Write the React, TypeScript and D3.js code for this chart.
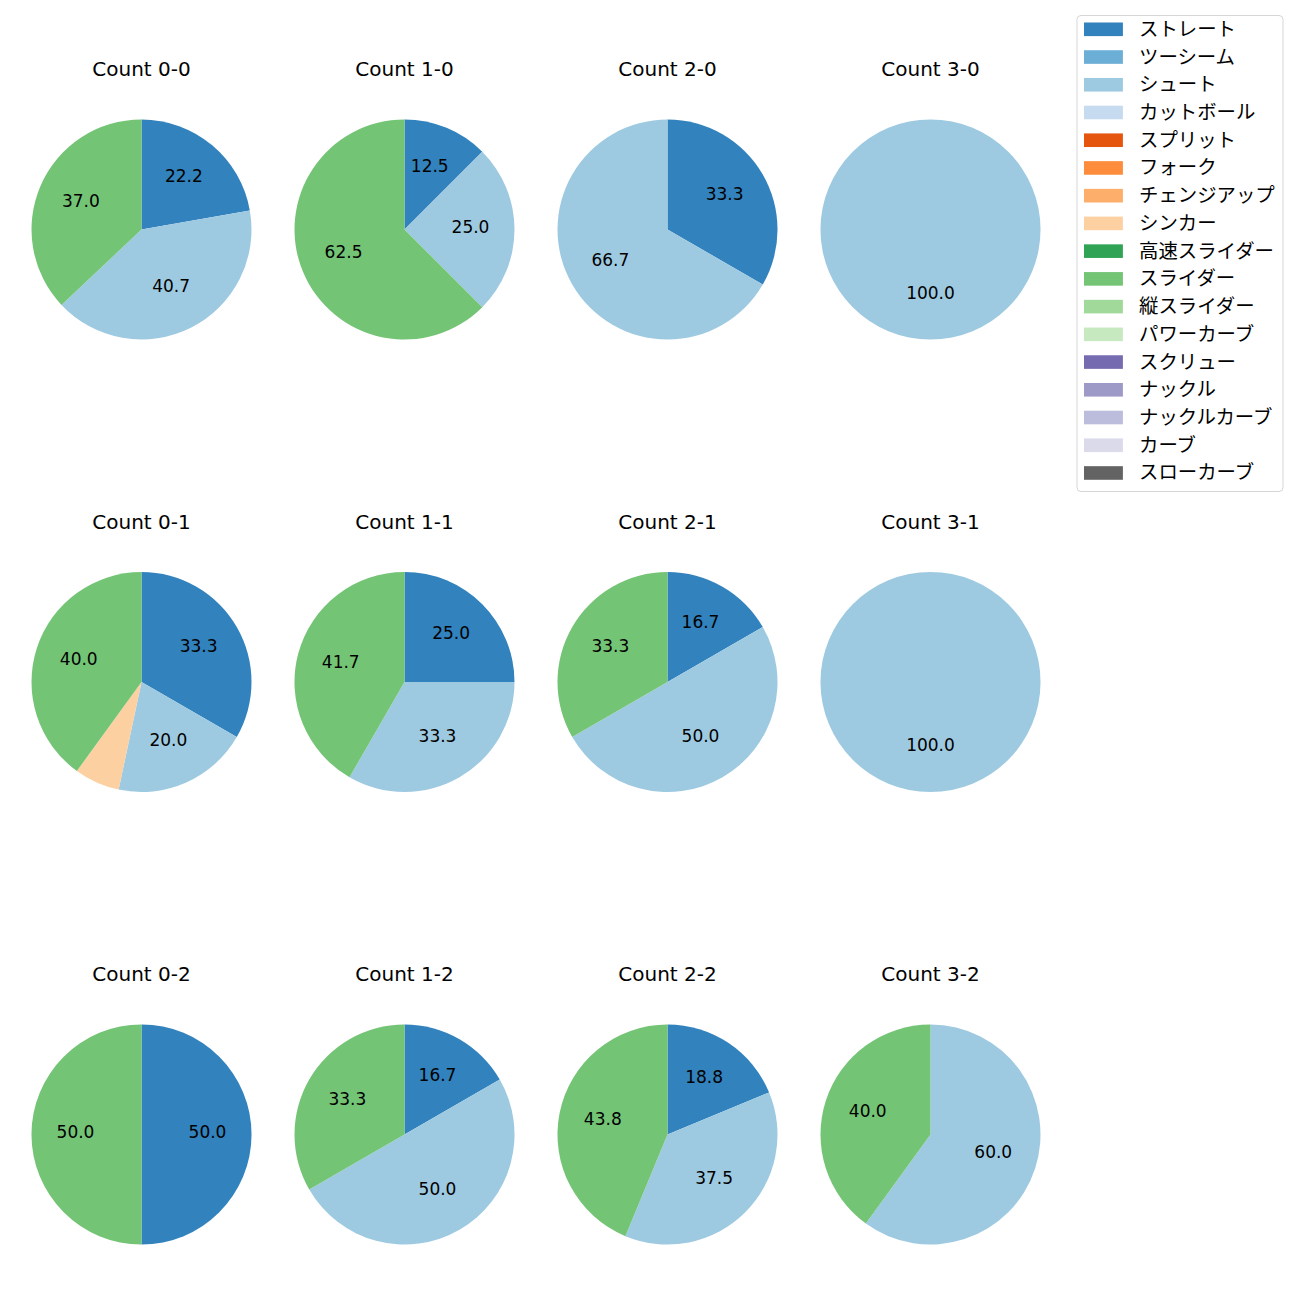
import React, { useEffect } from 'react';
import * as d3 from 'd3';

// ---- data ----
const pitchTypes = [
  'ストレート', 'ツーシーム', 'シュート', 'カットボール', 'スプリット', 'フォーク',
  'チェンジアップ', 'シンカー', '高速スライダー', 'スライダー', '縦スライダー',
  'パワーカーブ', 'スクリュー', 'ナックル', 'ナックルカーブ', 'カーブ', 'スローカーブ',
];
const pitchColors = [
  '#3182bd', '#6baed6', '#9ecae1', '#c6dbef', '#e6550d', '#fd8d3c', '#fdae6b',
  '#fdd0a2', '#31a354', '#74c476', '#a1d99b', '#c7e9c0', '#756bb1', '#9e9ac8',
  '#bcbddc', '#dadaeb', '#636363',
];
const countLabels = ['0-0', '1-0', '2-0', '3-0', '0-1', '1-1', '2-1', '3-1', '0-2', '1-2', '2-2', '3-2'];
// pitch counts per ball-strike count (same order as countLabels)
const straightCounts = [6, 1, 1, 0, 5, 3, 1, 0, 1, 1, 3, 0];
const shootCounts = [11, 2, 2, 1, 3, 4, 3, 1, 0, 3, 6, 3];
const sinkerCounts = [0, 0, 0, 0, 1, 0, 0, 0, 0, 0, 0, 0];
const sliderCounts = [10, 5, 0, 0, 6, 5, 2, 0, 1, 2, 7, 2];

const seriesByPitch: Record<string, number[]> = {
  'ストレート': straightCounts,
  'シュート': shootCounts,
  'シンカー': sinkerCounts,
  'スライダー': sliderCounts,
};

const FONT = "'DejaVu Sans', 'Noto Sans CJK JP', sans-serif";

export default function App() {
  useEffect(() => {
    document.body.style.margin = '0';
  }, []);

  const colX = d3.scaleLinear().domain([0, 3]).range([141.5, 930.5]);
  const rowY = d3.scaleLinear().domain([0, 2]).range([229.5, 1134.5]);
  const radius = 110;
  const color = d3.scaleOrdinal<string, string>().domain(pitchTypes).range(pitchColors);

  const pie = d3
    .pie<{ name: string; value: number }>()
    .sort(null)
    .value((d) => d.value)
    .startAngle(0)
    .endAngle(2 * Math.PI);
  const arc = d3.arc<d3.PieArcDatum<{ name: string; value: number }>>().innerRadius(0).outerRadius(radius);
  const labelArc = d3
    .arc<d3.PieArcDatum<{ name: string; value: number }>>()
    .innerRadius(radius * 0.6)
    .outerRadius(radius * 0.6);

  const legendTop = 29.3;
  const legendStep = 27.73;

  return (
    <svg width={1300} height={1300} style={{ display: 'block' }} fontFamily={FONT}>
      <rect x={0} y={0} width={1300} height={1300} fill="#ffffff" />
      {countLabels.map((cl, i) => {
        const col = i % 4;
        const row = Math.floor(i / 4);
        const cx = colX(col);
        const cy = rowY(row);
        const items = pitchTypes
          .filter((p) => seriesByPitch[p] && seriesByPitch[p][i] > 0)
          .map((p) => ({ name: p, value: seriesByPitch[p][i] }));
        const total = d3.sum(items, (d) => d.value);
        const arcs = pie(items);
        return (
          <g key={cl} transform={`translate(${cx},${cy})`}>
            <text x={0} y={-153.5} textAnchor="middle" fontSize={20} fill="#000">
              {`Count ${cl}`}
            </text>
            {arcs.map((a) => (
              <path key={a.data.name} d={arc(a) || ''} fill={color(a.data.name)} />
            ))}
            {arcs.map((a) => {
              const pct = (100 * a.data.value) / total;
              if (pct < 10) return null;
              const [lx, ly] = labelArc.centroid(a);
              return (
                <text
                  key={'l' + a.data.name}
                  x={lx}
                  y={ly + 3.3}
                  textAnchor="middle"
                  fontSize={17}
                  fill="#000"
                >
                  {pct.toFixed(1)}
                </text>
              );
            })}
          </g>
        );
      })}
      <g>
        <rect
          x={1077}
          y={15.5}
          width={206}
          height={476}
          rx={4}
          ry={4}
          fill="#ffffff"
          fillOpacity={0.8}
          stroke="#cccccc"
          strokeOpacity={0.8}
          strokeWidth={1}
        />
        {pitchTypes.map((p, i) => {
          const y = legendTop + i * legendStep;
          return (
            <g key={p}>
              <rect x={1084} y={y - 6.8} width={38.9} height={13.6} fill={color(p)} />
              <text x={1139} y={y} dominantBaseline="central" fontSize={19.4} fill="#000">
                {p}
              </text>
            </g>
          );
        })}
      </g>
    </svg>
  );
}
